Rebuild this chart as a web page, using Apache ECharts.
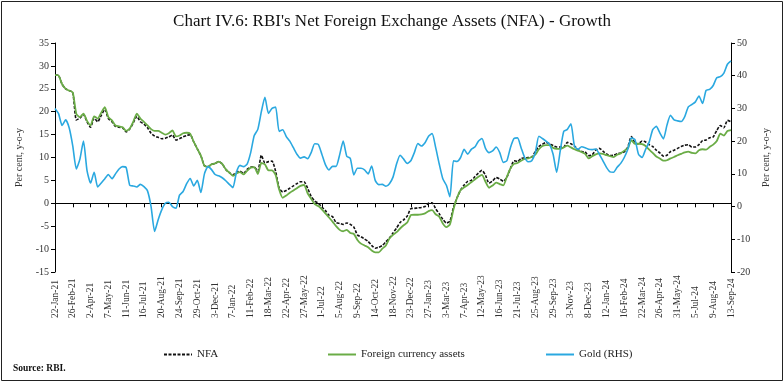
<!DOCTYPE html>
<html>
<head>
<meta charset="utf-8">
<script src="https://cdn.jsdelivr.net/npm/echarts@6/dist/echarts.min.js"></script>
<style>
html,body{margin:0;padding:0;background:#fff;}
#chart{width:784px;height:382px;}
</style>
</head>
<body>
<div id="chart"></div>
<script>
// Weekly categories: 22-Jan-21 ... 13-Sep-24
var startDate = Date.UTC(2021, 0, 22);
var numWeeks = 191;
var monthNames = ['Jan','Feb','Mar','Apr','May','Jun','Jul','Aug','Sep','Oct','Nov','Dec'];
var categories = [];
for (var k = 0; k < numWeeks; k++) {
  var d = new Date(startDate + k * 7 * 86400000);
  categories.push(d.getUTCDate() + '-' + monthNames[d.getUTCMonth()] + '-' + String(d.getUTCFullYear()).slice(2));
}

var nfa = [
28.0, 27.9, 26.0, 25.0, 24.6, 24.2, 18.2, 18.6, 19.4, 17.8,
16.6, 18.6, 17.8, 19.2, 20.5, 18.5, 17.8, 16.8, 16.6, 16.5,
15.6, 16.2, 17.6, 19.0, 17.8, 17.3, 16.5, 15.3, 14.7, 14.4,
14.1, 14.2, 14.5, 14.9, 13.8, 14.1, 14.5, 14.8, 15.0, 13.4,
11.9, 10.4, 8.2, 8.0, 8.5, 8.7, 9.1, 8.6, 7.4, 6.7,
6.2, 6.8, 7.0, 6.5, 7.4, 7.9, 7.9, 7.0, 10.5, 8.8,
9.1, 9.2, 7.0, 3.3, 2.5, 2.8, 3.3, 3.8, 4.3, 4.7,
4.7, 3.3, 1.5, 0.5, 0.0, -0.8, -1.6, -2.6, -2.9, -4.2,
-4.4, -4.6, -4.3, -4.6, -5.2, -6.9, -7.3, -7.8, -8.3, -9.2,
-9.8, -9.6, -9.2, -8.4, -7.6, -6.5, -5.4, -4.2, -3.6, -2.8,
-1.2, -1.1, -1.0, -0.9, -0.7, 0.0, 0.1, -1.2, -2.3, -3.5,
-4.3, -3.9, -0.9, 1.2, 2.9, 4.0, 4.8, 5.0, 5.8, 6.6,
7.2, 6.1, 4.4, 4.9, 5.6, 5.3, 4.8, 5.7, 7.6, 9.3,
9.1, 9.8, 9.9, 10.0, 10.1, 11.3, 12.4, 12.9, 13.3, 13.0,
12.6, 12.3, 12.3, 12.3, 13.3, 13.0, 12.5, 11.7, 11.3, 11.2,
10.4, 10.6, 11.6, 12.0, 11.4, 10.8, 10.4, 10.5, 10.8, 11.0,
11.2, 12.3, 14.6, 13.2, 13.0, 13.6, 13.4, 12.8, 12.4, 11.6,
11.0, 10.3, 10.5, 11.3, 11.6, 12.0, 12.4, 12.7, 12.8, 12.3,
12.3, 12.8, 13.7, 13.8, 14.3, 14.5, 15.9, 17.0, 16.5, 18.1, 17.8
];

var fca = [
28.0, 27.9, 26.0, 25.0, 24.6, 24.2, 19.5, 18.8, 19.6, 18.0,
17.0, 19.0, 18.5, 19.8, 21.0, 18.8, 18.1, 17.0, 16.8, 16.6,
15.8, 16.3, 17.8, 19.6, 18.5, 17.8, 17.0, 16.2, 15.8, 15.8,
15.4, 15.0, 15.3, 15.9, 14.6, 14.8, 15.3, 15.4, 15.2, 13.4,
11.9, 10.4, 8.2, 8.0, 8.5, 8.7, 9.1, 8.6, 7.4, 6.7,
6.0, 6.5, 6.8, 6.3, 7.1, 7.8, 7.9, 6.4, 8.8, 8.5,
7.2, 7.2, 6.2, 3.0, 1.2, 1.7, 2.3, 2.8, 3.3, 3.8,
4.0, 2.2, 1.0, -0.2, -0.6, -1.3, -2.2, -3.1, -4.0, -5.0,
-5.8, -6.1, -5.8, -6.5, -6.7, -8.0, -8.8, -9.2, -9.6, -10.3,
-10.7, -10.7, -9.9, -9.2, -7.7, -6.9, -6.3, -5.5, -4.8, -4.2,
-2.6, -2.5, -2.5, -2.4, -2.2, -1.7, -1.5, -2.4, -2.9, -4.4,
-5.2, -4.6, -1.3, 1.2, 2.9, 3.5, 4.0, 4.6, 5.2, 5.8,
6.2, 4.7, 3.4, 3.9, 4.5, 4.2, 3.9, 5.8, 7.6, 8.6,
8.8, 9.3, 9.7, 9.8, 10.1, 10.6, 11.8, 12.5, 12.7, 12.7,
12.1, 11.9, 11.9, 12.2, 12.6, 12.2, 11.8, 11.5, 11.2, 10.8,
9.8, 10.3, 10.7, 10.9, 10.8, 10.5, 10.3, 10.1, 10.6, 10.9,
11.5, 12.0, 13.8, 13.0, 13.0, 12.9, 12.5, 11.7, 11.0, 10.2,
9.8, 9.3, 9.4, 9.8, 10.1, 10.5, 10.8, 11.1, 11.3, 11.0,
10.9, 11.6, 11.8, 11.7, 12.3, 12.8, 13.6, 15.2, 14.8, 15.8, 16.0
];

var gold = [
30.0, 28.4, 24.8, 26.5, 24.0, 18.5, 11.5, 14.5, 20.0, 11.0,
7.2, 10.5, 6.0, 7.2, 8.5, 9.8, 8.5, 10.0, 11.5, 12.2,
11.9, 6.5, 6.3, 6.0, 6.8, 6.1, 4.8, 0.0, -7.6, -4.0,
-1.0, 1.0, 1.3, 0.0, -0.5, 3.5, 4.6, 7.0, 8.6, 6.3,
8.0, 4.3, 10.0, 12.2, 11.3, 9.8, 9.4, 8.8, 7.9, 6.8,
5.8, 10.5, 12.6, 12.2, 13.0, 16.5, 21.7, 23.6, 29.0, 33.4,
28.5, 30.0, 30.4, 23.0, 23.5, 21.4, 20.0, 18.0, 16.0, 14.8,
15.2, 14.6, 16.5, 19.2, 19.0, 16.0, 12.8, 11.2, 12.3, 12.3,
15.8, 20.0, 15.4, 14.7, 9.7, 11.7, 11.7, 11.2, 10.0, 12.4,
8.0, 6.7, 6.8, 6.2, 7.0, 9.0, 13.0, 15.7, 14.5, 13.2,
14.0, 16.5, 19.3, 18.5, 19.5, 21.5, 22.3, 18.0, 13.0, 8.5,
6.5, 3.0, 14.0, 13.8, 15.0, 17.5, 16.0, 17.5, 18.2, 20.0,
20.8, 17.8, 16.5, 17.0, 18.2, 16.5, 13.5, 14.0, 18.0, 20.8,
21.0, 18.0, 15.0, 13.7, 14.0, 16.5, 21.5, 20.8, 20.0, 19.0,
16.0, 10.5, 17.0, 23.0, 23.6, 25.3, 18.5, 17.5, 18.3, 18.0,
17.5, 17.4, 17.6, 16.0, 14.0, 12.0, 10.6, 10.5, 12.0, 13.2,
15.0, 17.5, 21.0, 20.5, 16.0, 15.0, 17.5, 19.7, 23.5, 24.5,
22.5, 20.7, 24.9, 27.9, 26.5, 26.2, 26.0, 27.5, 30.5, 31.2,
32.0, 33.8, 31.5, 35.5, 35.8, 37.0, 39.4, 39.7, 40.8, 43.5, 44.5
];

var leftTicks = {min: -15, max: 35, interval: 5};
var rightTicks = {min: -20, max: 50, interval: 10};

var FONT = '"Liberation Serif", "DejaVu Serif", serif';
var TXT = '#333333';

function legendCfg(name, left) {
  return {data: [name], left: left, top: 344, itemWidth: 28, itemHeight: 10,
    itemStyle: {opacity: 0},
    textStyle: {fontFamily: FONT, fontSize: 11, color: '#222'}};
}

var chart = echarts.init(document.getElementById('chart'), null, {renderer: 'canvas'});
chart.setOption({
  backgroundColor: '#ffffff',
  animation: false,
  title: {
    text: "Chart IV.6: RBI's Net Foreign Exchange Assets (NFA) - Growth",
    left: 'center',
    top: 8,
    textStyle: {fontFamily: FONT, fontSize: 17, fontWeight: 'normal', color: '#111'}
  },
  legend: [
    legendCfg('NFA', 158),
    legendCfg('Foreign currency assets', 322),
    legendCfg('Gold (RHS)', 540)
  ],
  grid: {left: 55, right: 53, top: 43, bottom: 110, containLabel: false},
  xAxis: [
    {
      type: 'category', data: categories, boundaryGap: false,
      axisLine: {onZero: true, lineStyle: {color: '#000', width: 1}},
      axisTick: {show: true, interval: 4, length: 4, lineStyle: {color: '#000'}},
      axisLabel: {show: false},
      splitLine: {show: false}
    },
    {
      type: 'category', data: categories, boundaryGap: false, position: 'bottom',
      axisLine: {show: false, onZero: false},
      axisTick: {show: false},
      axisLabel: {show: true, interval: 4, rotate: 90, align: 'left', verticalAlign: 'middle',
                  margin: 46, fontFamily: FONT, fontSize: 9.5, color: TXT},
      splitLine: {show: false}
    }
  ],
  yAxis: [
    {
      type: 'value', min: leftTicks.min, max: leftTicks.max, interval: leftTicks.interval,
      name: 'Per cent, y-o-y', nameLocation: 'middle', nameGap: 31, nameRotate: 90,
      nameTextStyle: {fontFamily: FONT, fontSize: 10, color: TXT},
      axisLine: {show: true, lineStyle: {color: '#000', width: 1}},
      axisTick: {show: true, length: 4, lineStyle: {color: '#000'}},
      axisLabel: {fontFamily: FONT, fontSize: 10, color: TXT, margin: 6},
      splitLine: {show: false}
    },
    {
      type: 'value', position: 'right', min: rightTicks.min, max: rightTicks.max, interval: rightTicks.interval,
      name: 'Per cent, y-o-y', nameLocation: 'middle', nameGap: 30, nameRotate: 90,
      nameTextStyle: {fontFamily: FONT, fontSize: 10, color: TXT},
      axisLine: {show: true, onZero: false, lineStyle: {color: '#000', width: 1}},
      axisTick: {show: true, length: 4, lineStyle: {color: '#000'}},
      axisLabel: {fontFamily: FONT, fontSize: 10, color: TXT, margin: 6},
      splitLine: {show: false}
    }
  ],
  series: [
    {name: 'NFA', type: 'line', data: nfa, xAxisIndex: 0, yAxisIndex: 0, symbol: 'none', smooth: 0.2,
     lineStyle: {color: '#111', width: 1.6, type: [3, 1.5]}, itemStyle: {color: '#111'}},
    {name: 'Foreign currency assets', type: 'line', data: fca, xAxisIndex: 0, yAxisIndex: 0, symbol: 'none', smooth: 0.2,
     lineStyle: {color: '#6aac46', width: 1.8}, itemStyle: {color: '#6aac46'}},
    {name: 'Gold (RHS)', type: 'line', data: gold, xAxisIndex: 0, yAxisIndex: 1, symbol: 'none', smooth: 0.2,
     lineStyle: {color: '#2aa8e0', width: 1.6}, itemStyle: {color: '#2aa8e0'}}
  ],
  graphic: [
    {type: 'rect', shape: {x: 1.5, y: 1.5, width: 781, height: 379}, style: {fill: 'none', stroke: '#222', lineWidth: 1}, silent: true},
    {type: 'text', left: 13, top: 364, style: {text: 'Source: RBI.', font: 'bold 9.5px "Liberation Serif", serif', fill: '#111'}}
  ]
});
</script>
</body>
</html>
